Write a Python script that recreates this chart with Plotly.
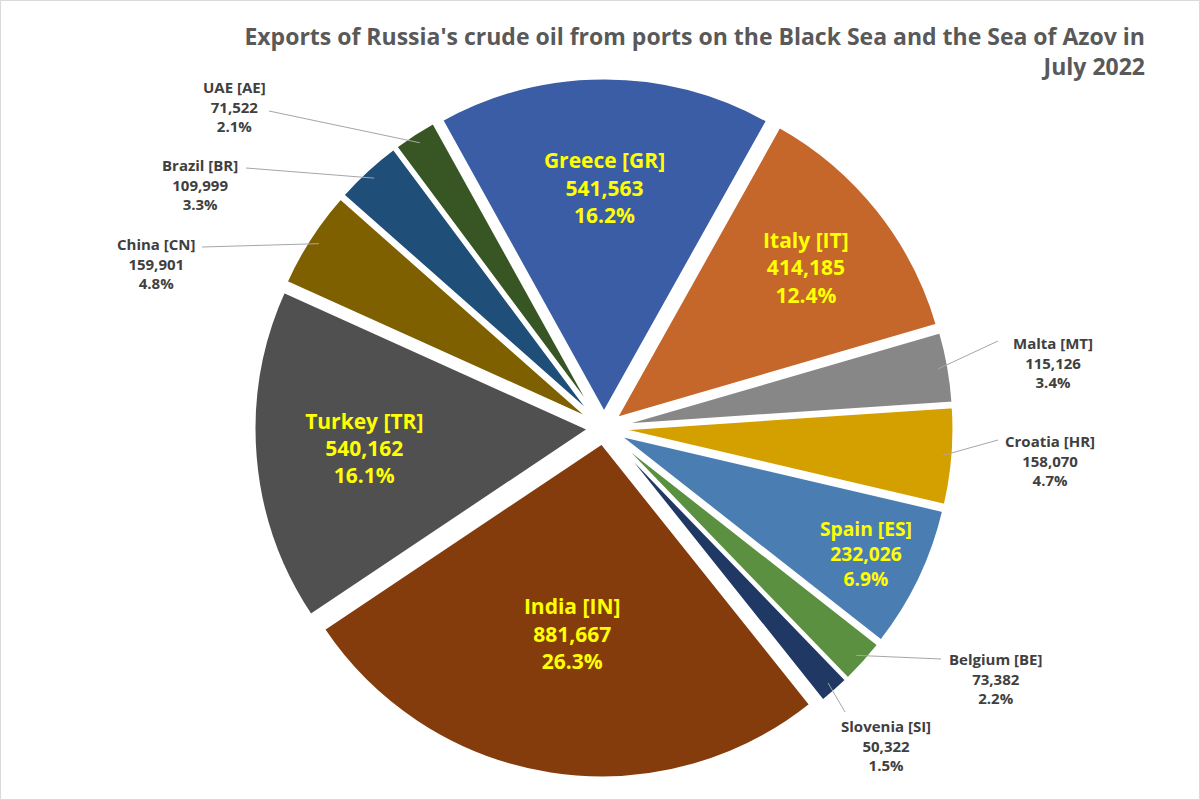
import math
import plotly.graph_objects as go

# ---- data ----
countries = ["Greece [GR]", "Italy [IT]", "Malta [MT]", "Croatia [HR]", "Spain [ES]",
             "Belgium [BE]", "Slovenia [SI]", "India [IN]", "Turkey [TR]", "China [CN]",
             "Brazil [BR]", "UAE [AE]"]
volumes = [541563, 414185, 115126, 158070, 232026, 73382, 50322, 881667, 540162,
           159901, 109999, 71522]
colors = ["#3A5DA5", "#C5662A", "#878787", "#D4A000", "#4A7EB2", "#5A9040",
          "#1F3864", "#843C0C", "#505050", "#7F6000", "#1F4E79", "#375623"]
inside = ["Greece [GR]", "Italy [IT]", "Spain [ES]", "India [IN]", "Turkey [TR]"]

title = "Exports of Russia's crude oil from ports on the Black Sea and the Sea of Azov in<br>July 2022"

# ---- layout geometry ----
W, H = 1200, 800
ML, MR, MT, MB = 8, 0, 78, 22
PULL = 0.045
ROT = -29
FONT = "Open Sans"

# outside labels: (text centre, leader-line start) in pixels – layout only
label_pos = {
    "UAE [AE]": ((234, 107), (269, 111)),
    "Brazil [BR]": ((200, 185), (246, 168)),
    "China [CN]": ((156, 263), (202, 247)),
    "Malta [MT]": ((1053, 362), (998, 341)),
    "Croatia [HR]": ((1050, 460), (998, 440)),
    "Belgium [BE]": ((995, 678), (941, 659)),
    "Slovenia [SI]": ((886, 745), (845, 712)),
}

pw, ph = W - ML - MR, H - MT - MB
R = min(pw, ph) / 2 / (1 + PULL)
cx, cy = ML + pw / 2, MT + ph / 2
total = sum(volumes)


def px(x):
    return (x - ML) / pw


def py(y):
    return 1 - (y - MT) / ph


texttpl = ["<b>%{label}</b><br><b>%{value:,}</b><br><b>%{percent:.1%}</b>" if c in inside else ""
           for c in countries]
textpos = ["inside" if c in inside else "none" for c in countries]

fig = go.Figure(go.Pie(
    labels=countries, values=volumes, sort=False, direction="clockwise",
    rotation=ROT, pull=[PULL] * len(volumes),
    marker=dict(colors=colors, line=dict(color="white", width=3)),
    texttemplate=texttpl, textposition=textpos,
    insidetextorientation="horizontal",
    insidetextfont=dict(family=FONT, size=21, color="#FFFF00"),
    hoverinfo="skip", showlegend=False,
))

annotations = []
shapes = []
cum = 0
for c, v in zip(countries, volumes):
    mid = math.radians(ROT + (cum + v / 2) / total * 360)
    cum += v
    if c in inside:
        continue
    rr = R * (1 + PULL) * 0.97
    tx, ty = cx + rr * math.sin(mid), cy - rr * math.cos(mid)
    (lx, ly), (sx, sy) = label_pos[c]
    pct = v / total * 100
    annotations.append(dict(
        x=px(lx), y=py(ly), xref="paper", yref="paper",
        xanchor="center", yanchor="middle",
        text=f"<b>{c}</b><br><b>{v:,}</b><br><b>{pct:.1f}%</b>",
        showarrow=False, align="center",
        font=dict(family=FONT, size=15, color="#404040"),
    ))
    shapes.append(dict(type="line", xref="paper", yref="paper",
                       x0=px(sx), y0=py(sy), x1=px(tx), y1=py(ty),
                       line=dict(color="#A6A6A6", width=1)))

shapes.append(dict(type="rect", xref="paper", yref="paper",
                   x0=px(0.5), x1=px(W - 0.5), y0=py(H - 0.5), y1=py(0.5),
                   line=dict(color="#D9D9D9", width=1), layer="below"))

fig.update_layout(
    width=W, height=H,
    margin=dict(l=ML, r=MR, t=MT, b=MB),
    paper_bgcolor="white", plot_bgcolor="white",
    title=dict(text=f"<b>{title}</b>".replace("<br>", "</b><br><b>"),
               xref="container", yref="container", x=1145 / W, xanchor="right",
               y=1 - 45 / H, yanchor="top",
               font=dict(family=FONT, size=23, color="#595959")),
    annotations=annotations,
    shapes=shapes,
)

fig.write_html("out.html")
